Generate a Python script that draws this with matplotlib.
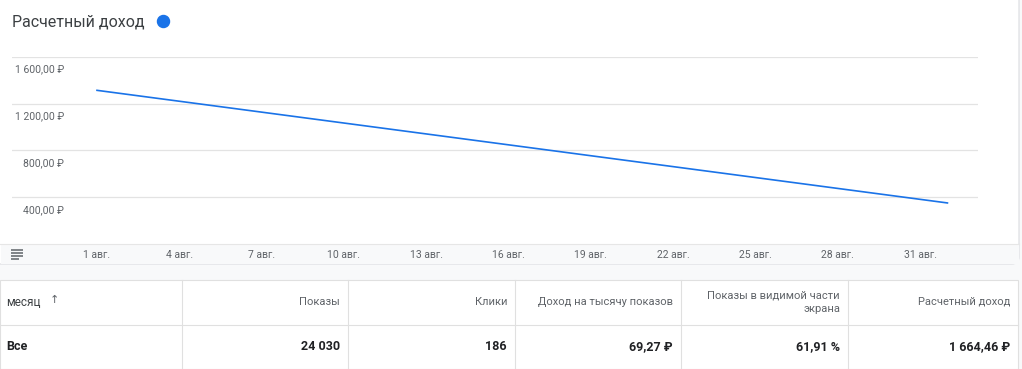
import matplotlib.pyplot as plt
from matplotlib.patches import Rectangle, FancyBboxPatch

# chart data
days = [1, 32]                      # 1 Aug .. 1 Sep
revenue = [1313, 352]
ytick_vals = [400, 800, 1200, 1600]
ytick_labels = ["400,00 ₽", "800,00 ₽", "1 200,00 ₽", "1 600,00 ₽"]
xtick_days = [1, 4, 7, 10, 13, 16, 19, 22, 25, 28, 31]
xtick_labels = [f"{d} авг." for d in xtick_days]

# table data
col_headers = ["Показы", "Клики", "Доход на тысячу показов",
               "Показы в видимой части\nэкрана", "Расчетный доход"]
row_label = "Все"
row_values = ["24 030", "186", "69,27 ₽", "61,91 %", "1 664,46 ₽"]

FONT = ["Roboto", "DejaVu Sans"]
plt.rcParams["font.family"] = FONT

W, H = 1022, 369
fig = plt.figure(figsize=(W / 100, H / 100), dpi=100, facecolor="#f8f9fa")

# background axes in pixel coordinates
bg = fig.add_axes([0, 0, 1, 1])
bg.set_xlim(0, W)
bg.set_ylim(H, 0)
bg.axis("off")
bg.set_zorder(0)

# card
bg.add_patch(FancyBboxPatch((-20, -20), 1019 + 20, 264 + 20,
                            boxstyle="round,pad=0,rounding_size=7",
                            fc="white", ec="#dadce0", lw=0.8))
# x-axis band
bg.add_patch(Rectangle((0.5, 244), 1018, 19.5, fc="#f8f9fa", ec="none"))
bg.plot([0, 1019], [244, 244], color="#e6e6e6", lw=0.8)

# hamburger icon
for yy, x1 in [(250, 23), (253, 23), (256, 23), (259, 19)]:
    bg.plot([10.5, x1], [yy, yy], color="#5f6368", lw=1.1, solid_capstyle="butt")

# title + legend dot
bg.text(12, 22, "Расчетный доход", fontsize=11.5, color="#3c4043",
        va="center", ha="left")
bg.scatter([163], [21], s=75, color="#1a73e8", zorder=3)

# table
bg.add_patch(Rectangle((0, 280), 1018, 88.5, fc="white", ec="#e0e0e0", lw=0.8))
bg.plot([0, 1018], [324.5, 324.5], color="#e0e0e0", lw=0.8)
col_edges = [182, 348, 515, 681, 848, 1018]
for xe in col_edges[:-1]:
    bg.plot([xe, xe], [280, 368.5], color="#e0e0e0", lw=0.8)

bg.text(6, 302, "месяц", fontsize=8.5, color="#3c4043", va="center", ha="left")
bg.text(50, 300, "↑", fontsize=8, color="#5f6368", va="center", ha="left")
for xe, hdr in zip(col_edges[1:], col_headers):
    if "\n" in hdr:
        bg.text(xe - 8, 302, hdr, fontsize=8, color="#5f6368",
                va="center", ha="right", linespacing=1.45, ma="right")
    else:
        bg.text(xe - 8, 302, hdr, fontsize=8, color="#5f6368",
                va="center", ha="right")

bg.text(6, 347, row_label, fontsize=9, fontweight="bold", color="#202124",
        va="center", ha="left")
for xe, val in zip(col_edges[1:], row_values):
    bg.text(xe - 8, 347, val, fontsize=9, fontweight="bold", color="#202124",
            va="center", ha="right")

# chart axes
px_left, px_right = 12, 978
px_top, px_zero = 56.7, 244.2
ax = fig.add_axes([px_left / W, (H - px_zero) / H,
                   (px_right - px_left) / W, (px_zero - px_top) / H])
ax.set_zorder(1)
ax.patch.set_alpha(0)
per_day = (920 - 97) / 30
ax.set_xlim(1 - (97 - px_left) / per_day, 1 + (px_right - 97) / per_day)
ax.set_ylim(0, 1600)
for s in ax.spines.values():
    s.set_visible(False)
ax.set_xticks([])
ax.set_yticks([])

for v in ytick_vals:
    ax.axhline(v, color="#e3e3e3", lw=0.9, zorder=1)
ax.plot(days, revenue, color="#1a73e8", lw=1.2, zorder=3)

# y labels under each grid line, right aligned
for v, lab in zip(ytick_vals, ytick_labels):
    yy = ax.transData.transform((0, v))[1]
    y_px = H - yy + 13
    bg.text(64, y_px, lab, fontsize=7.5, color="#5f6368", va="center", ha="right")

# x labels in the band
for d, lab in zip(xtick_days, xtick_labels):
    xx = ax.transData.transform((d, 0))[0]
    bg.text(xx, 254.5, lab, fontsize=7.5, color="#5f6368", va="center", ha="center")

fig.savefig("out.png", dpi=100, facecolor=fig.get_facecolor())
